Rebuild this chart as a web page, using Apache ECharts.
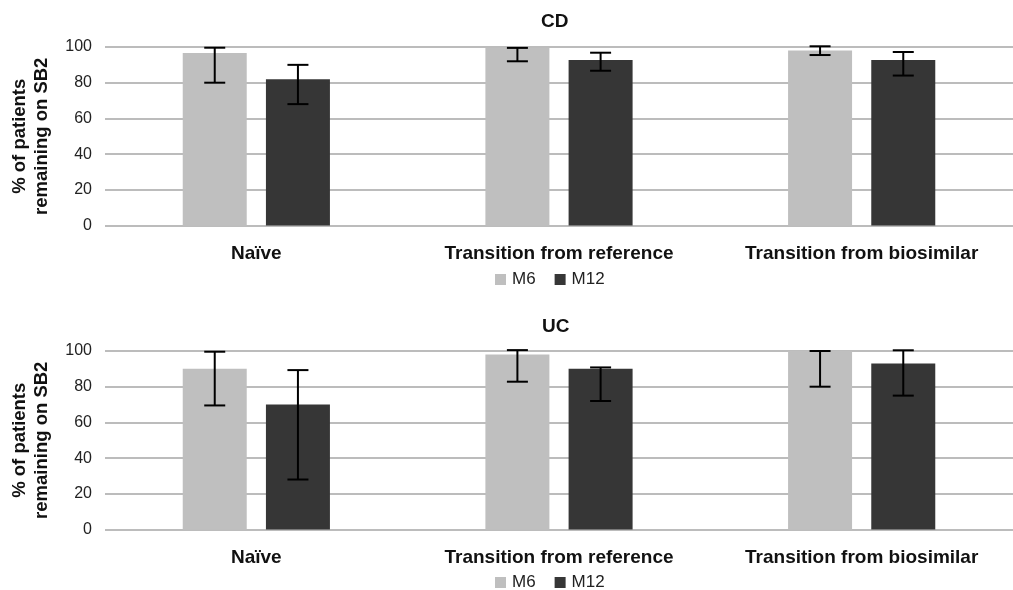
<!DOCTYPE html>
<html>
<head>
<meta charset="utf-8">
<script src="https://cdn.jsdelivr.net/npm/echarts@6/dist/echarts.min.js"></script>
<style>html,body{margin:0;padding:0;background:#fff}#c{width:1013px;height:590px}</style>
</head>
<body>
<div id="c"></div>
<script>
var categories = ['Naïve', 'Transition from reference', 'Transition from biosimilar'];
var seriesNames = ['M6', 'M12'];
var yTicks = [0, 20, 40, 60, 80, 100];

var cdM6 = [96.7, 99.5, 98];
var cdM6Low = [80, 92, 95.5];
var cdM6High = [99.6, 99.5, 100.4];
var cdM12 = [82, 92.7, 92.7];
var cdM12Low = [68, 86.7, 84];
var cdM12High = [90, 96.8, 97.2];

var ucM6 = [90, 98, 100];
var ucM6Low = [69.5, 82.8, 80];
var ucM6High = [99.6, 100.5, 100];
var ucM12 = [70, 90, 93];
var ucM12Low = [28, 72, 75];
var ucM12High = [89.3, 90.8, 100.4];

var FONT = 'Liberation Sans, Arial, sans-serif';
var C_M6 = '#bfbfbf', C_M12 = '#363636';

function errData(low, high) {
  return categories.map(function (c, i) { return [i, low[i], high[i]]; });
}
function errRender(offset) {
  return function (params, api) {
    var x = api.value(0);
    var lo = api.coord([x, api.value(1)]);
    var hi = api.coord([x, api.value(2)]);
    var cx = lo[0] + offset;
    var hw = 10.5;
    var st = { stroke: '#000', lineWidth: 2 };
    return {
      type: 'group',
      children: [
        { type: 'line', shape: { x1: cx, y1: lo[1], x2: cx, y2: hi[1] }, style: st },
        { type: 'line', shape: { x1: cx - hw, y1: hi[1], x2: cx + hw, y2: hi[1] }, style: st },
        { type: 'line', shape: { x1: cx - hw, y1: lo[1], x2: cx + hw, y2: lo[1] }, style: st }
      ]
    };
  };
}

var gridTops = [47, 351];
var grids = gridTops.map(function (t) { return { left: 105, right: -3, top: t, height: 178.5 }; });

function xAx(i) {
  return {
    type: 'category', gridIndex: i, data: categories,
    axisLine: { show: false }, axisTick: { show: false },
    axisLabel: { interval: 0, hideOverlap: false, fontFamily: FONT, fontSize: 19, fontWeight: 'bold', color: '#111', margin: 19 }
  };
}
function yAx(i) {
  return {
    type: 'value', gridIndex: i, min: yTicks[0], max: yTicks[yTicks.length - 1], interval: 20,
    name: '% of patients\nremaining on SB2', nameLocation: 'middle', nameGap: 52, nameRotate: 90,
    nameTextStyle: { fontFamily: FONT, fontSize: 18.5, fontWeight: 'bold', color: '#111', lineHeight: 22 },
    axisLine: { show: false }, axisTick: { show: false },
    axisLabel: { fontFamily: FONT, fontSize: 16, color: '#222', margin: 13 },
    splitLine: { lineStyle: { color: '#a6a6a6', width: 1.5 } }
  };
}
function bars(i, m6, m12) {
  return [
    { name: 'M6', type: 'bar', xAxisIndex: i, yAxisIndex: i, data: m6, barWidth: 64, barGap: '30%', itemStyle: { color: C_M6 }, silent: true },
    { name: 'M12', type: 'bar', xAxisIndex: i, yAxisIndex: i, data: m12, barWidth: 64, barGap: '30%', itemStyle: { color: C_M12 }, silent: true }
  ];
}
function errs(i, l6, h6, l12, h12) {
  return [
    { name: 'errM6_' + i, type: 'custom', xAxisIndex: i, yAxisIndex: i, data: errData(l6, h6), renderItem: errRender(-41.6), encode: { x: 0, y: [1, 2] }, z: 5, silent: true },
    { name: 'errM12_' + i, type: 'custom', xAxisIndex: i, yAxisIndex: i, data: errData(l12, h12), renderItem: errRender(41.6), encode: { x: 0, y: [1, 2] }, z: 5, silent: true }
  ];
}
function legend(top) {
  return {
    data: seriesNames, top: top, left: 495, padding: 0, itemGap: 19,
    icon: 'rect', itemWidth: 11, itemHeight: 11,
    textStyle: { fontFamily: FONT, fontSize: 17, color: '#222', padding: [0, 0, 0, 1] },
    selectedMode: false
  };
}

var chart = echarts.init(document.getElementById('c'), null, { renderer: 'canvas' });
chart.setOption({
  animation: false,
  backgroundColor: '#fff',
  title: [
    { text: 'CD', left: 541, top: 12, padding: 0, textStyle: { fontFamily: FONT, fontSize: 19, fontWeight: 'bold', color: '#111' } },
    { text: 'UC', left: 542, top: 317, padding: 0, textStyle: { fontFamily: FONT, fontSize: 19, fontWeight: 'bold', color: '#111' } }
  ],
  legend: [legend(271), legend(574)],
  grid: grids,
  xAxis: [xAx(0), xAx(1)],
  yAxis: [yAx(0), yAx(1)],
  series: [].concat(
    bars(0, cdM6, cdM12), errs(0, cdM6Low, cdM6High, cdM12Low, cdM12High),
    bars(1, ucM6, ucM12), errs(1, ucM6Low, ucM6High, ucM12Low, ucM12High)
  )
});
</script>
</body>
</html>
